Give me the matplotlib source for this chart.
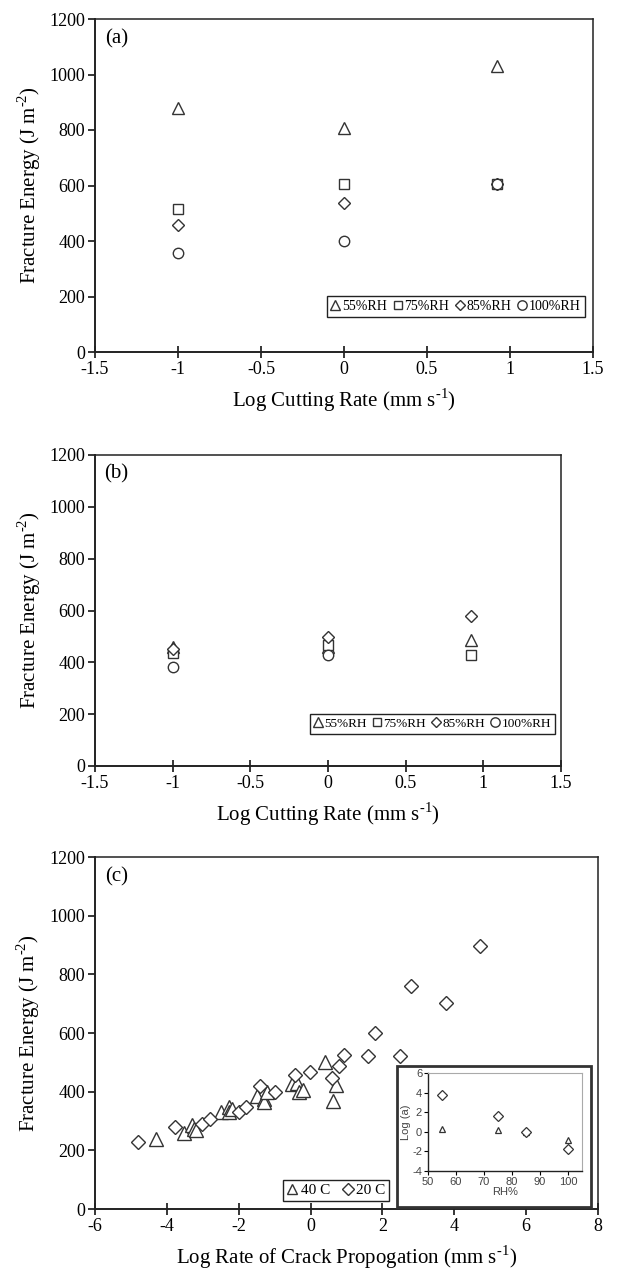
import matplotlib
matplotlib.use("Agg")
import matplotlib.pyplot as plt
import numpy as np
from matplotlib.patches import Rectangle

plt.rcParams['font.family'] = ['Liberation Serif', 'DejaVu Serif']
plt.rcParams['mathtext.fontset'] = 'custom'
plt.rcParams['mathtext.rm'] = 'Liberation Serif'
plt.rcParams['axes.unicode_minus'] = False

# panel (a) and (b): fracture energy vs log cutting rate
rate = [-1.0, 0.0, 0.92]
series = ['55%RH', '75%RH', '85%RH', '100%RH']
markers = ['^', 's', 'D', 'o']
msizes = [8, 7, 6, 7.5]

energy_a = {
    '55%RH': [878, 808, 1031],
    '75%RH': [516, 605, 605],
    '85%RH': [458, 536, 605],
    '100%RH': [356, 401, 605],
}
energy_b = {
    '55%RH': [460, 461, 488],
    '75%RH': [437, 466, 430],
    '85%RH': [452, 497, 577],
    '100%RH': [382, 427, np.nan],
}

# panel (c): fracture energy vs log crack propagation rate
crack_40 = [-4.31, -3.51, -3.30, -3.25, -3.20, -2.49, -2.28, -2.27, -2.19, -1.50,
            -1.31, -1.30, -1.20, -0.51, -0.39, -0.31, -0.22, 0.41, 0.71, 0.62]
energy_40 = [239, 258, 287, 273, 268, 331, 347, 331, 341, 386,
             375, 364, 398, 427, 430, 398, 407, 500, 422, 369]
crack_20 = [-4.80, -3.78, -3.01, -2.79, -1.98, -1.79, -1.41, -1.00, -0.43, -0.02,
            0.60, 0.78, 0.92, 1.59, 1.78, 2.48, 2.79, 3.78, 4.71]
energy_20 = [227, 278, 291, 307, 331, 347, 418, 399, 458, 466,
             447, 486, 524, 523, 600, 523, 760, 702, 895]

# inset: shift factor vs RH
rh = [55, 75, 85, 100]
loga_40 = [0.3, 0.2, 0.0, -0.85]
loga_20 = [3.8, 1.65, 0.0, -1.8]

W, H = 644, 1272
fig = plt.figure(figsize=(W / 100, H / 100), dpi=100)


def box(l, r, t, b):
    return [l / W, (H - b) / H, (r - l) / W, (b - t) / H]


ec = '#333333'
sans = ['Liberation Sans', 'DejaVu Sans']


def style(ax, xlabel, tag):
    for s in ax.spines.values():
        s.set_color('#222222')
        s.set_linewidth(1.1)
    ax.spines['left'].set_linewidth(1.4)
    ax.spines['bottom'].set_linewidth(1.4)
    ax.tick_params(axis='x', direction='inout', length=9, width=1.1, labelsize=13, pad=2)
    ax.tick_params(axis='y', direction='out', length=5, width=1.1, labelsize=13, pad=2)
    ax.set_ylim(0, 1200)
    ax.set_yticks(range(0, 1201, 200))
    ax.set_ylabel(r'Fracture Energy (J m$^{\text{-2}}$)', fontsize=15)
    ax.yaxis.set_label_coords(-0.105, 0.5)
    ax.set_xlabel(xlabel, fontsize=15, labelpad=6)
    ax.text(0.02, 0.97, tag, transform=ax.transAxes, fontsize=15, va='top', ha='left')


def rh_panel(ax, energy, anchor, tag, fs):
    for name, m, ms in zip(series, markers, msizes):
        ax.plot(rate, energy[name], linestyle='none', marker=m, ms=ms, mfc='white',
                mec=ec, mew=1.0, label=name)
    ax.set_xlim(-1.5, 1.5)
    ax.set_xticks([-1.5, -1, -0.5, 0, 0.5, 1, 1.5])
    ax.set_xticklabels(['-1.5', '-1', '-0.5', '0', '0.5', '1', '1.5'])
    style(ax, r'Log Cutting Rate (mm s$^{\text{-1}}$)', tag)
    leg = ax.legend(loc='lower right', bbox_to_anchor=anchor, ncol=4, fontsize=fs,
                    handlelength=0.6, handletextpad=0.2, columnspacing=0.45,
                    borderpad=0.3, borderaxespad=0, fancybox=False, framealpha=1,
                    markerscale=0.9)
    leg.get_frame().set_edgecolor('#222222')
    leg.get_frame().set_linewidth(1.0)


ax_a = fig.add_axes(box(95, 593, 19, 352))
rh_panel(ax_a, energy_a, (0.984, 0.105), '(a)', 10)

ax_b = fig.add_axes(box(95, 561, 455, 766))
rh_panel(ax_b, energy_b, (0.987, 0.103), '(b)', 9.5)
ax_b.yaxis.set_label_coords(-0.112, 0.5)

ax_c = fig.add_axes(box(95, 598, 857, 1209))
ax_c.plot(crack_40, energy_40, linestyle='none', marker='^', ms=10, mfc='white',
          mec=ec, mew=1.0, label='40 C')
ax_c.plot(crack_20, energy_20, linestyle='none', marker='D', ms=7.5, mfc='white',
          mec=ec, mew=1.0, label='20 C')
ax_c.set_xlim(-6, 8)
ax_c.set_xticks(range(-6, 9, 2))
style(ax_c, r'Log Rate of Crack Propogation (mm s$^{\text{-1}}$)', '(c)')
leg = ax_c.legend(loc='lower left', bbox_to_anchor=(0.374, 0.023), ncol=2, fontsize=11,
                  handlelength=0.7, handletextpad=0.2, columnspacing=0.8,
                  borderpad=0.25, borderaxespad=0, fancybox=False, framealpha=1,
                  markerscale=0.75)
leg.get_frame().set_edgecolor('#222222')
leg.get_frame().set_linewidth(1.0)

# inset frame and axes
fig.patches.append(Rectangle((397 / W, (H - 1207) / H), (591 - 397) / W, (1207 - 1066) / H,
                             transform=fig.transFigure, facecolor='white',
                             edgecolor='#333333', linewidth=2.0, zorder=5))
ax_i = fig.add_axes(box(428, 582, 1073, 1171), zorder=6)
ax_i.plot(rh, loga_40, linestyle='none', marker='^', ms=5, mfc='white', mec=ec, mew=0.9)
ax_i.plot(rh, loga_20, linestyle='none', marker='D', ms=5, mfc='white', mec=ec, mew=0.9)
ax_i.set_xlim(50, 105)
ax_i.set_ylim(-4, 6)
ax_i.set_xticks(range(50, 101, 10))
ax_i.set_yticks(range(-4, 7, 2))
for s in ['top', 'right']:
    ax_i.spines[s].set_color('#aaaaaa')
    ax_i.spines[s].set_linewidth(0.8)
for s in ['left', 'bottom']:
    ax_i.spines[s].set_color('#222222')
    ax_i.spines[s].set_linewidth(1.0)
ax_i.tick_params(direction='out', length=3, width=0.8, labelsize=8, pad=1.2,
                 labelcolor='#444444')
for lab in ax_i.get_xticklabels() + ax_i.get_yticklabels():
    lab.set_family(sans)
ax_i.set_xlabel('RH%', fontsize=8, labelpad=0, color='#444444', family=sans)
ax_i.set_ylabel('Log (a)', fontsize=8, labelpad=0.5, color='#444444', family=sans)

fig.savefig('out.png', dpi=100)
